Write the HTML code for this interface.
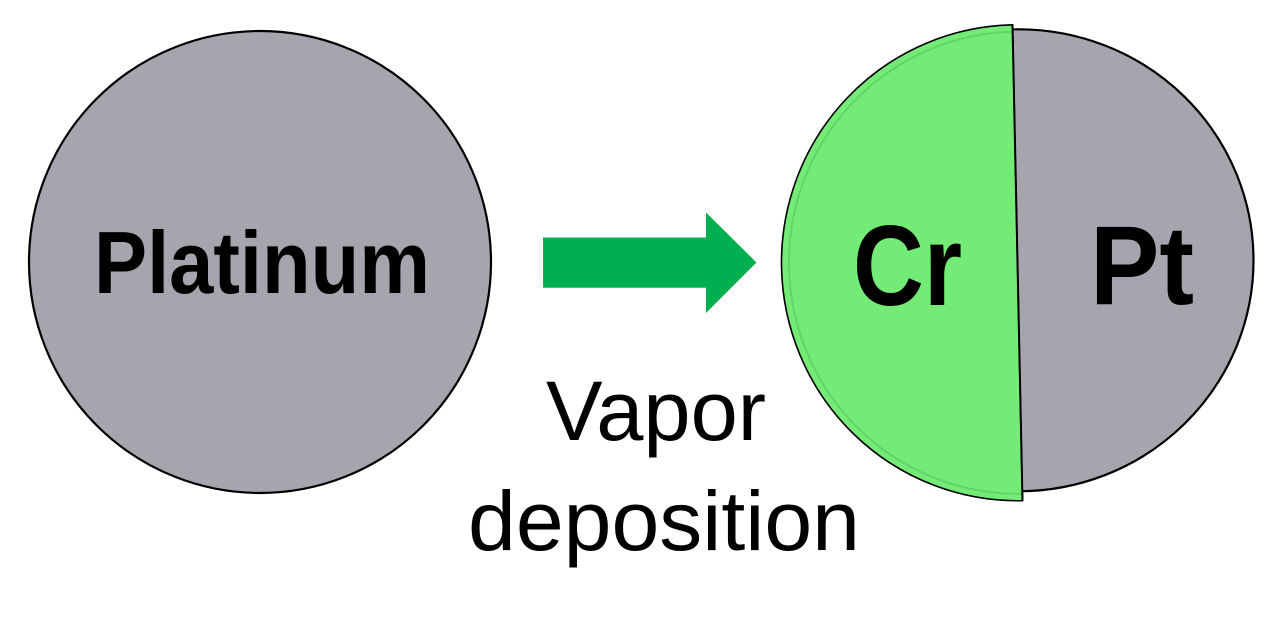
<!DOCTYPE html>
<html>
<head>
<meta charset="utf-8">
<style>
  html, body { margin: 0; padding: 0; background: #ffffff; }
  body { width: 1282px; height: 629px; overflow: hidden; }
  svg { display: block; }
</style>
</head>
<body>
<svg width="1282" height="629" viewBox="0 0 1282 629" xmlns="http://www.w3.org/2000/svg">
  <rect x="0" y="0" width="1282" height="629" fill="#ffffff"/>

  <!-- Left circle: Platinum -->
  <circle cx="260" cy="262" r="231" fill="#A6A5AE" stroke="#000" stroke-width="2.2"/>
  <text x="94" y="293" font-family="Liberation Sans, Arial, sans-serif" font-weight="bold" font-size="88" fill="#000" textLength="336" lengthAdjust="spacingAndGlyphs">Platinum</text>

  <!-- Arrow -->
  <polygon points="543,237.5 706,237.5 706,212.5 756.5,262.5 706,313 706,287.7 543,287.7" fill="#00B050"/>

  <!-- Vapor deposition label -->
  <text x="546" y="440" font-family="Liberation Sans, Arial, sans-serif" font-size="84" fill="#000" textLength="220" lengthAdjust="spacingAndGlyphs">Vapor</text>
  <text x="468" y="550" font-family="Liberation Sans, Arial, sans-serif" font-size="84" fill="#000" textLength="392" lengthAdjust="spacingAndGlyphs">deposition</text>

  <!-- Right circle: Pt base -->
  <ellipse cx="1018.5" cy="260.3" rx="235" ry="231" fill="#A6A5AE" stroke="#000" stroke-width="2.2"/>

  <!-- Green Cr half (half-ellipse rotated slightly) -->
  <g transform="translate(1017.5,262.75) rotate(-1.2)">
    <path d="M0,-238 A236,238 0 0 0 -236,0 A236,238 0 0 0 0,238 Z" fill="#74EB77" stroke="#000" stroke-width="1.6"/>
    <path d="M0,-231 A228.5,231 0 0 0 -228.5,0 A228.5,231 0 0 0 0,231" fill="none" stroke="#5CCF63" stroke-width="2" opacity="0.8"/>
    <line x1="0" y1="-238" x2="0" y2="238" stroke="#000" stroke-width="2"/>
  </g>

  <text x="853" y="305" font-family="Liberation Sans, Arial, sans-serif" font-weight="bold" font-size="114" fill="#000" textLength="109" lengthAdjust="spacingAndGlyphs">Cr</text>
  <text x="1090" y="304" font-family="Liberation Sans, Arial, sans-serif" font-weight="bold" font-size="112" fill="#000" textLength="104" lengthAdjust="spacingAndGlyphs">Pt</text>
</svg>
</body>
</html>
